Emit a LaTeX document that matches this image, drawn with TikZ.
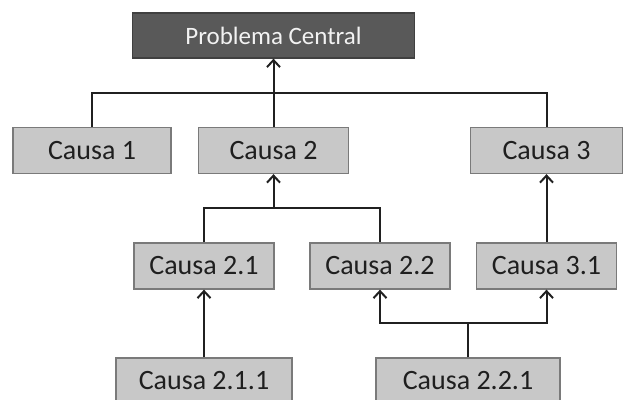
\documentclass[tikz,border=0pt]{standalone}
\usepackage{fontspec}
\setmainfont{Carlito}
\usetikzlibrary{arrows.meta}
\definecolor{boxfill}{HTML}{C8C8C8}
\definecolor{boxline}{HTML}{7A7A7A}
\definecolor{topfill}{HTML}{595959}
\definecolor{topline}{HTML}{404040}
\definecolor{linkcol}{HTML}{202020}
\begin{document}
\begin{tikzpicture}[x=1pt,y=-1pt,
  causebox/.style={draw=boxline, fill=boxfill, line width=1.3pt, inner sep=0pt,
    minimum height=46pt, text=black!88, font=\fontsize{28}{30}\selectfont},
  topbox/.style={draw=topline, fill=topfill, line width=1.3pt, inner sep=0pt,
    minimum width=282pt, minimum height=45pt, text=white!95!black,
    font=\fontsize{25}{27}\selectfont},
  link/.style={draw=linkcol, line width=2pt},
  up/.style={link, -{Straight Barb[length=7pt,width=13pt,line width=2pt]}}
]
\useasboundingbox (0,0) rectangle (626,399);

% top problem
\node[topbox] (pc) at (273.5,35.5) {Problema Central};

% first level causes
\node[causebox, minimum width=158pt] (c1) at (92,150.5) {Causa 1};
\node[causebox, minimum width=150pt] (c2) at (273.5,150.5) {Causa 2};
\node[causebox, minimum width=152pt] (c3) at (546.5,150.5) {Causa 3};

% second level causes
\node[causebox, minimum width=140pt] (c21) at (204,266) {Causa 2.1};
\node[causebox, minimum width=140pt] (c22) at (380,266) {Causa 2.2};
\node[causebox, minimum width=140pt] (c31) at (546.5,266) {Causa 3.1};

% third level causes
\node[causebox, minimum width=176pt] (c211) at (204,381) {Causa 2.1.1};
\node[causebox, minimum width=184pt] (c221) at (468,381) {Causa 2.2.1};

% junction points of the brackets
\coordinate (j1) at (273.5,93);
\coordinate (j2) at (273.5,208);
\coordinate (j3) at (468,323);

% level one to problem
\draw[link] (c1.north) |- (j1) -| (c3.north);
\draw[up] (c2.north) -- (pc.south);

% level two to level one
\draw[link] (c21.north) |- (j2) -| (c22.north);
\draw[up] (j2) -- (c2.south);
\draw[up] (c31.north) -- (c3.south);

% level three to level two
\draw[up] (c211.north) -- (c21.south);
\draw[link] (c221.north) -- (j3);
\draw[up] (j3) -| (c22.south);
\draw[up] (j3) -| (c31.south);
\end{tikzpicture}
\end{document}
